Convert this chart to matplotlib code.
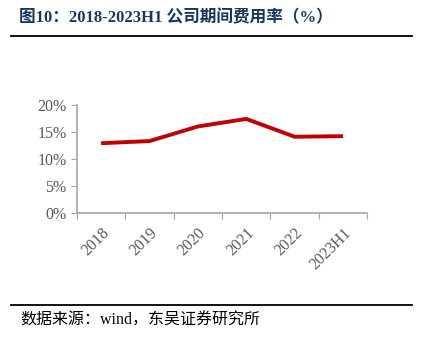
import matplotlib.pyplot as plt
from matplotlib.lines import Line2D

# 数据
years = ['2018', '2019', '2020', '2021', '2022', '2023H1']
rate = [12.9, 13.3, 16.0, 17.4, 14.1, 14.2]   # 期间费用率 %

plt.rcParams['font.family'] = ['Liberation Serif', 'Noto Sans CJK SC']

fig = plt.figure(figsize=(4.25, 3.45), dpi=100)
ax = fig.add_axes([0.181, 0.383, 0.683, 0.313])

x = list(range(len(years)))
ax.plot(x, rate, color='#C00000', lw=2.8, solid_capstyle='butt')

ax.set_xlim(-0.5, len(years) - 0.5)
ax.set_ylim(0, 20)
ax.set_yticks([0, 5, 10, 15, 20])
ax.set_yticklabels(['0%', '5%', '10%', '15%', '20%'])

# 刻度线在类别之间, 标签在中间
ax.set_xticks([i - 0.5 for i in range(len(years) + 1)])
ax.set_xticklabels([])
ax.set_xticks(x, minor=True)
ax.set_xticklabels(years, minor=True, rotation=45, ha='right', va='top',
                   rotation_mode='anchor')
ax.tick_params(axis='x', which='minor', length=0, pad=9)
ax.tick_params(axis='x', which='major', length=4, color='#A6A6A6')
ax.tick_params(axis='y', length=4, color='#A6A6A6')
ax.tick_params(labelsize=11.5, labelcolor='#595959')
for lab in ax.get_xticklabels(minor=True):
    lab.set_fontsize(11.5)
    lab.set_color('#595959')

for s in ['top', 'right']:
    ax.spines[s].set_visible(False)
for s in ['left', 'bottom']:
    ax.spines[s].set_color('#A6A6A6')
    ax.spines[s].set_linewidth(1.2)

# 标题和来源
fig.text(0.045, 0.948, '图10：2018-2023H1 公司期间费用率（%）', fontsize=12,
         fontweight='bold', color='#17375E', va='center',
         family=['Liberation Serif', 'Noto Sans CJK SC'])
fig.add_artist(Line2D([0.026, 0.97], [0.897, 0.897], color='black', lw=1.3))
fig.add_artist(Line2D([0.026, 0.97], [0.116, 0.116], color='black', lw=1.3))
fig.text(0.047, 0.07, '数据来源：wind，东吴证券研究所', fontsize=11.5,
         color='black', va='center',
         family=['Liberation Serif', 'Noto Sans CJK SC'])

fig.savefig('out.png', dpi=100)
